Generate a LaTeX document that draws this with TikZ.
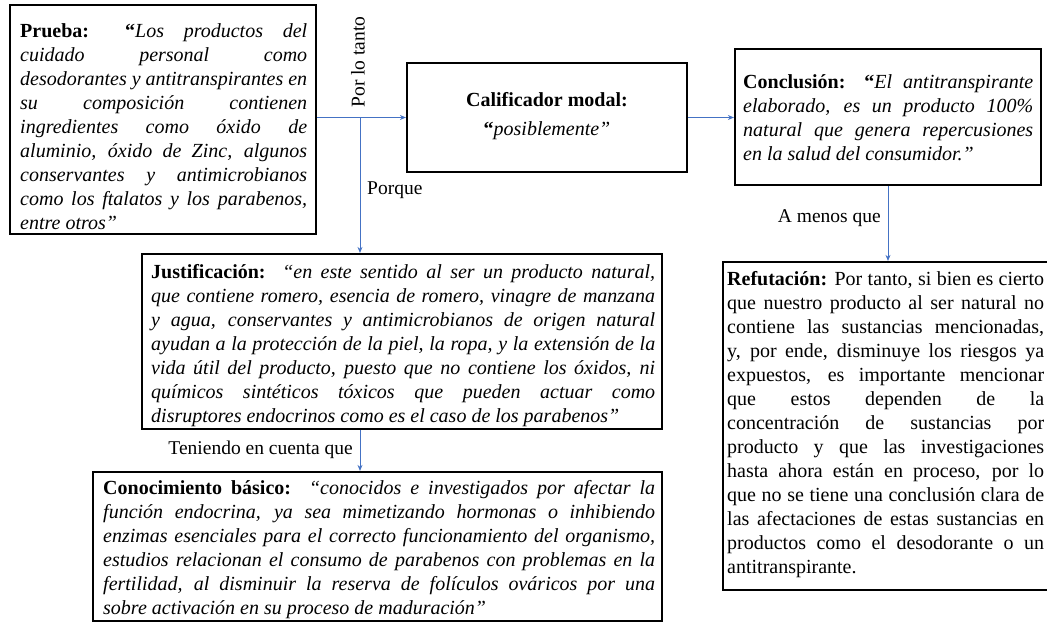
\documentclass[tikz,border=0pt]{standalone}
\usepackage{fontspec}
\setmainfont{Liberation Serif}
\usetikzlibrary{arrows.meta}
\newlength{\jw}
\newcommand{\JL}[1]{\hbox to \jw{#1}}
\newcommand{\LL}[1]{\hbox{#1}}
\newcommand{\bq}{{\upshape\bfseries “}}
\definecolor{linkblue}{RGB}{68,114,196}
\tikzset{
  box/.style={draw=black, line width=2.2pt, rectangle, inner sep=0pt},
  txt/.style={inner sep=0pt, anchor=base west, font=\fontsize{20}{24}\selectfont},
  lbl/.style={inner sep=0pt, font=\fontsize{19.5}{22}\selectfont},
  conn/.style={draw=linkblue, line width=0.8pt, -{Stealth[length=6pt,width=5pt]}}
}
\begin{document}
\begin{tikzpicture}[x=1pt,y=-1pt]
\useasboundingbox (0,0) rectangle (1047,623);
% boxes
\node[box, minimum width=306pt, minimum height=229pt] (prueba) at (163,119.5) {};
\node[box, minimum width=280pt, minimum height=109pt] (calif) at (547,117.5) {};
\node[box, minimum width=306pt, minimum height=136pt] (concl) at (888,117) {};
\node[box, minimum width=332pt, minimum height=328pt] (refut) at (889,426) {};
\node[box, minimum width=520pt, minimum height=175pt] (just) at (402,341.5) {};
\node[box, minimum width=569pt, minimum height=149pt] (conoc) at (377.5,546.5) {};
% texts
\node[txt] (pruebaT) at (20,38) {\setlength\jw{287pt}\vtop{%
\JL{\textbf{Prueba:} \bq\textit{Los productos del}}%
\JL{\itshape cuidado personal como}%
\JL{\itshape desodorantes y antitranspirantes en}%
\JL{\itshape su composición contienen}%
\JL{\itshape ingredientes como óxido de}%
\JL{\itshape aluminio, óxido de Zinc, algunos}%
\JL{\itshape conservantes y antimicrobianos}%
\JL{\itshape como los ftalatos y los parabenos,}%
\LL{\itshape entre otros”}}};
\node[inner sep=0pt, align=center, font=\fontsize{20}{29}\selectfont] (califT) at (547,116) {\textbf{Calificador modal:}\\\bq\textit{posiblemente”}};
\node[txt] (conclT) at (743,89) {\setlength\jw{290pt}\vtop{%
\JL{\textbf{Conclusión:} \bq\textit{El antitranspirante}}%
\JL{\itshape elaborado, es un producto 100\%}%
\JL{\itshape natural que genera repercusiones}%
\LL{\itshape en la salud del consumidor.”}}};
\node[txt] (refutT) at (727,285) {\setlength\jw{317pt}\vtop{%
\JL{\textbf{Refutación:} Por tanto, si bien es cierto}%
\JL{que nuestro producto al ser natural no}%
\JL{contiene las sustancias mencionadas,}%
\JL{y, por ende, disminuye los riesgos ya}%
\JL{expuestos, es importante mencionar}%
\JL{que estos dependen de la}%
\JL{concentración de sustancias por}%
\JL{producto y que las investigaciones}%
\JL{hasta ahora están en proceso, por lo}%
\JL{que no se tiene una conclusión clara de}%
\JL{las afectaciones de estas sustancias en}%
\JL{productos como el desodorante o un}%
\LL{antitranspirante.}}};
\node[txt] (justT) at (151,278) {\setlength\jw{504pt}\vtop{%
\JL{\textbf{Justificación:}\ \ \textit{“en este sentido al ser un producto natural,}}%
\JL{\itshape que contiene romero, esencia de romero, vinagre de manzana}%
\JL{\itshape y agua, conservantes y antimicrobianos de origen natural}%
\JL{\itshape ayudan a la protección de la piel, la ropa, y la extensión de la}%
\JL{\itshape vida útil del producto, puesto que no contiene los óxidos, ni}%
\JL{\itshape químicos sintéticos tóxicos que pueden actuar como}%
\LL{\itshape disruptores endocrinos como es el caso de los parabenos”}}};
\node[txt] (conocT) at (103,494) {\setlength\jw{552pt}\vtop{%
\JL{\textbf{Conocimiento básico:}\ \ \textit{“conocidos e investigados por afectar la}}%
\JL{\itshape función endocrina, ya sea mimetizando hormonas o inhibiendo}%
\JL{\itshape enzimas esenciales para el correcto funcionamiento del organismo,}%
\JL{\itshape estudios relacionan el consumo de parabenos con problemas en la}%
\JL{\itshape fertilidad, al disminuir la reserva de folículos ováricos por una}%
\LL{\itshape sobre activación en su proceso de maduración”}}};
% labels
\node[lbl, rotate=90] (lt) at (358,62) {Por lo tanto};
\node[lbl, anchor=west] (lp) at (367,190) {Porque};
\node[lbl, anchor=east] (lm) at (881,218) {A menos que};
\node[lbl, anchor=east] (lc) at (353,450) {Teniendo en cuenta que};
% connectors
\coordinate (split) at (360,117.5);
\draw[conn] (calif.west -| prueba.east) -- (calif.west);
\draw[conn] (split) -- (split |- just.north);
\draw[conn] (calif.east) -- (calif.east -| concl.west);
\draw[conn] (concl.south) -- (concl.south |- refut.north);
\draw[conn] (split |- just.south) -- (split |- conoc.north);
\end{tikzpicture}
\end{document}
